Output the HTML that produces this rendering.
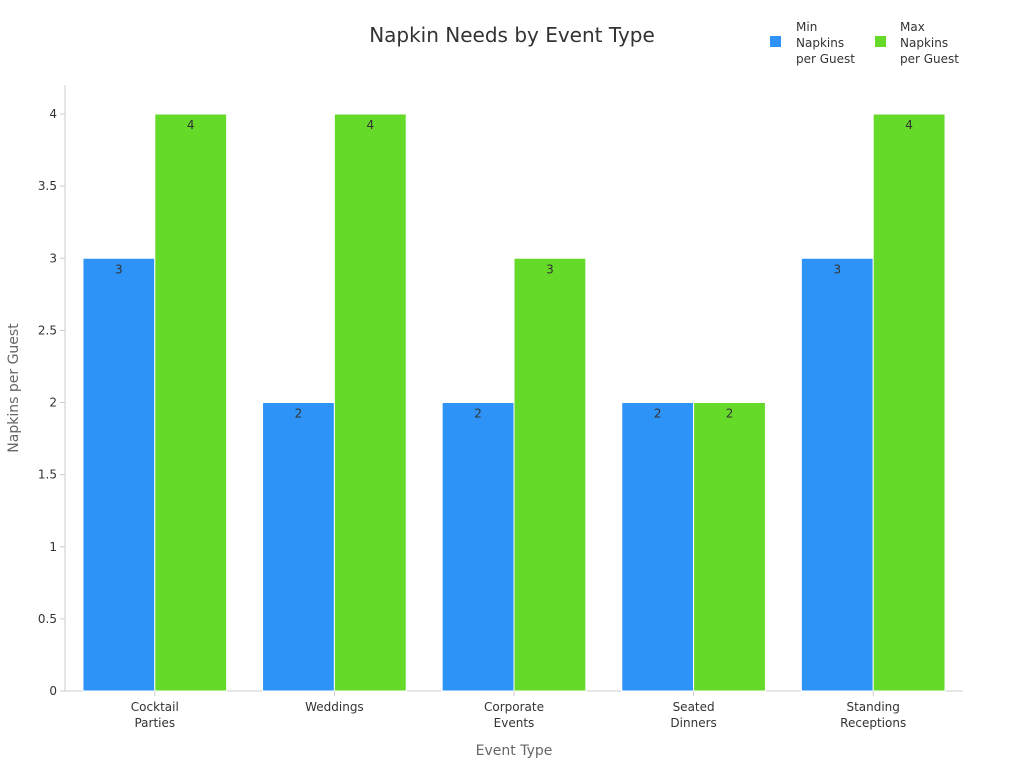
<!DOCTYPE html>
<html><head><meta charset="utf-8"><style>
body{margin:0;background:#fff;}
svg text{font-family:"DejaVu Sans","Liberation Sans",sans-serif;}
</style></head><body>
<svg id="chart" width="1024" height="768" xmlns="http://www.w3.org/2000/svg">
<text x="512" y="42" text-anchor="middle" font-size="20" fill="#333">Napkin Needs by Event Type</text>
<g>
<rect x="770" y="36" width="11" height="11" fill="#2e93f7"/>
<text font-size="12" fill="#333"><tspan x="796" y="31">Min</tspan><tspan x="796" y="47">Napkins</tspan><tspan x="796" y="63">per Guest</tspan></text>
<rect x="875" y="36" width="11" height="11" fill="#66da29"/>
<text font-size="12" fill="#333"><tspan x="900" y="31">Max</tspan><tspan x="900" y="47">Napkins</tspan><tspan x="900" y="63">per Guest</tspan></text>
</g>
<text transform="translate(18,388) rotate(-90)" text-anchor="middle" font-size="14" fill="#666">Napkins per Guest</text>
<text x="514" y="755" text-anchor="middle" font-size="14" fill="#666">Event Type</text>
<g id="plot"></g>
</svg>
<script>
const categories=[["Cocktail","Parties"],["Weddings"],["Corporate","Events"],["Seated","Dinners"],["Standing","Receptions"]];
const minValues=[3,2,2,2,3];
const maxValues=[4,4,3,2,4];
const yTicks=[0,0.5,1,1.5,2,2.5,3,3.5,4];
const NS="http://www.w3.org/2000/svg";
const g=document.getElementById('plot');
const x0=65,x1=963,yBase=691,yTop=114,yMax=4;
const band=(x1-x0)/categories.length;
const y=v=>yBase-(v/yMax)*(yBase-yTop);
function el(t,a,p){const e=document.createElementNS(NS,t);for(const k in a)e.setAttribute(k,a[k]);(p||g).appendChild(e);return e;}
yTicks.forEach(t=>{
 const l=el('line',{x1:x0-5,x2:x0,y1:y(t),y2:y(t),stroke:'#ccc'});
 
 
 const tx=el('text',{x:x0-8,y:y(t)+4,'text-anchor':'end','font-size':12,fill:'#333'});
 tx.textContent=String(t);
 
 
});
const ya=el('line',{x1:x0,x2:x0,y1:85,y2:yBase,stroke:'#ccc'});


const xa=el('line',{x1:x0,x2:x1,y1:yBase,y2:yBase,stroke:'#ccc'});


const bw=band*0.4;
categories.forEach((c,i)=>{
 const bx=x0+band*i+band*0.1;
 [[minValues[i],'#2e93f7','bar-min'],[maxValues[i],'#66da29','bar-max']].forEach((s,j)=>{
  const xx=bx+j*bw;
  const r=el('rect',{x:xx,y:y(s[0]),width:bw,height:yBase-y(s[0]),fill:s[1],stroke:'#fff','stroke-width':1});
  
  
  const t=el('text',{x:xx+bw/2,y:y(s[0])+15,'text-anchor':'middle','font-size':12,fill:'#333'});
  t.textContent=String(s[0]);
  
  
 });
 const cx=x0+band*(i+0.5);
 const tk=el('line',{x1:cx,x2:cx,y1:yBase,y2:yBase+5,stroke:'#ccc'});
 
 
 const t=el('text',{'text-anchor':'middle','font-size':12,fill:'#333'});
 
 
 c.forEach((line,k)=>{const ts=el('tspan',{x:cx,y:yBase+20+k*16},t);ts.textContent=line;});
});
</script>
</body></html>
